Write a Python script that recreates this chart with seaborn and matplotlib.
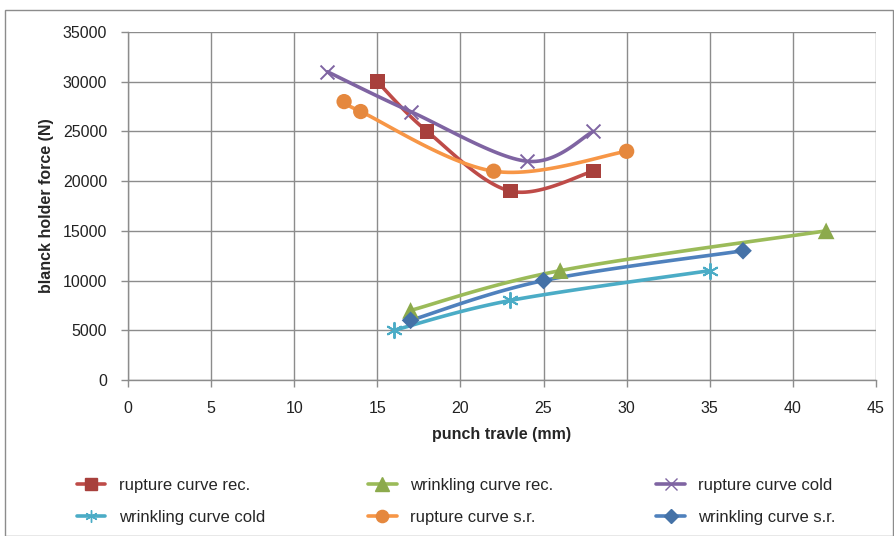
import numpy as np
import pandas as pd
import matplotlib
matplotlib.use("Agg")
import matplotlib.pyplot as plt
from matplotlib.lines import Line2D
from matplotlib.patches import Rectangle
import seaborn as sns

# punch travel (mm) and blank holder force (N) for each curve
rupture_rec_x = [15, 18, 23, 28]
rupture_rec_y = [30000, 25000, 19000, 21000]
wrinkling_rec_x = [17, 26, 42]
wrinkling_rec_y = [7000, 11000, 15000]
rupture_cold_x = [12, 17, 24, 28]
rupture_cold_y = [31000, 27000, 22000, 25000]
wrinkling_cold_x = [16, 23, 35]
wrinkling_cold_y = [5000, 8000, 11000]
rupture_sr_x = [13, 14, 22, 30]
rupture_sr_y = [28000, 27000, 21000, 23000]
wrinkling_sr_x = [17, 25, 37]
wrinkling_sr_y = [6000, 10000, 13000]

series = [
    ("rupture curve rec.", rupture_rec_x, rupture_rec_y, "#BE4B48", "s", 10.5, "#A8403C"),
    ("wrinkling curve rec.", wrinkling_rec_x, wrinkling_rec_y, "#9BBB59", "^", 12, "#8CAA4C"),
    ("rupture curve cold", rupture_cold_x, rupture_cold_y, "#7F64A2", "x", 10, "#7F64A2"),
    ("wrinkling curve cold", wrinkling_cold_x, wrinkling_cold_y, "#4BACC6", (6, 2, 0), 11, "#4BACC6"),
    ("rupture curve s.r.", rupture_sr_x, rupture_sr_y, "#F79646", "o", 11, "#E5883E"),
    ("wrinkling curve s.r.", wrinkling_sr_x, wrinkling_sr_y, "#4F81BD", "D", 9, "#4572A7"),
]

X_MAX, Y_MAX = 45, 35000
ASPECT = 348 / 748  # plot height / width, for smoothing in screen proportions


def smooth(xs, ys, n=30):
    """Bezier smoothing of a polyline, as spreadsheet charts draw it."""
    p = np.column_stack([np.asarray(xs) / X_MAX, np.asarray(ys) / Y_MAX * ASPECT])
    out = [p[0]]
    for i in range(len(p) - 1):
        p0 = p[i - 1] if i > 0 else p[i]
        p1, p2 = p[i], p[i + 1]
        p3 = p[i + 2] if i + 2 < len(p) else p[i + 1]
        c1 = p1 + (p2 - p0) / 6
        c2 = p2 - (p3 - p1) / 6
        t = np.linspace(0, 1, n)[1:, None]
        seg = ((1 - t) ** 3) * p1 + 3 * ((1 - t) ** 2) * t * c1 + 3 * (1 - t) * t ** 2 * c2 + t ** 3 * p2
        out.extend(seg)
    out = np.array(out)
    return out[:, 0] * X_MAX, out[:, 1] / ASPECT * Y_MAX


sns.set_theme(style="white")
plt.rcParams["font.family"] = ["Liberation Sans Narrow", "Liberation Sans", "DejaVu Sans"]

fig = plt.figure(figsize=(8.94, 5.36), dpi=100)
ax = fig.add_axes([128 / 894, 1 - 380 / 536, 748 / 894, 348 / 536])

handles = []
for name, xs, ys, color, marker, ms, mcolor in series:
    sx, sy = smooth(xs, ys)
    curve = pd.DataFrame({"x": sx, "y": sy})
    sns.lineplot(data=curve, x="x", y="y", sort=False, estimator=None, ax=ax,
                 color=color, linewidth=2.6, zorder=3)
    pts = pd.DataFrame({"x": xs, "y": ys})
    filled = marker not in ("x", (6, 2, 0))
    kw = dict(edgecolor="none") if filled else dict(linewidth=1.4)
    sns.scatterplot(data=pts, x="x", y="y", ax=ax, marker=marker, s=ms ** 2,
                    color=mcolor, zorder=4, **kw)
    handles.append(Line2D([], [], color=color, linewidth=2.6, marker=marker,
                          markersize=ms * 0.8, markerfacecolor=mcolor,
                          markeredgecolor=mcolor, label=name))

ax.set_xlim(0, X_MAX)
ax.set_ylim(0, Y_MAX)
ax.set_xticks(np.arange(0, 46, 5))
ax.set_yticks(np.arange(0, 35001, 5000))
ax.grid(True, color="#8C8C8C", linewidth=1.0)
ax.set_axisbelow(True)
for side in ("top", "right"):
    ax.spines[side].set_visible(False)
for side in ("left", "bottom"):
    ax.spines[side].set_color("#8C8C8C")
    ax.spines[side].set_linewidth(1.0)
ax.tick_params(axis="both", which="major", direction="out", length=5, width=1,
               color="#8C8C8C", labelsize=11.5, labelcolor="#222222")
ax.tick_params(axis="y", pad=10)
ax.tick_params(axis="x", pad=10)
ax.tick_params(axis="both", bottom=True, left=True)

ax.set_xlabel("punch travle (mm)", fontsize=11.5, fontweight="bold", labelpad=8)
ax.set_ylabel("blanck holder force (N)", fontsize=11.5, fontweight="bold", labelpad=6)

# legend fills column by column, so interleave to read across rows
order = [0, 3, 1, 4, 2, 5]
fig.legend(handles=[handles[i] for i in order], loc="upper left",
           bbox_to_anchor=(62 / 894, 1 - 463 / 536),
           ncol=3, frameon=False, fontsize=12, handlelength=1.7,
           columnspacing=6.2, labelspacing=1.0, handletextpad=0.8)

fig.patches.append(Rectangle((5 / 894, 0), 1 - 6 / 894, 1 - 10 / 536, transform=fig.transFigure,
                             fill=False, edgecolor="#8C8C8C", linewidth=1.0))

fig.savefig("out.png", dpi=100)
